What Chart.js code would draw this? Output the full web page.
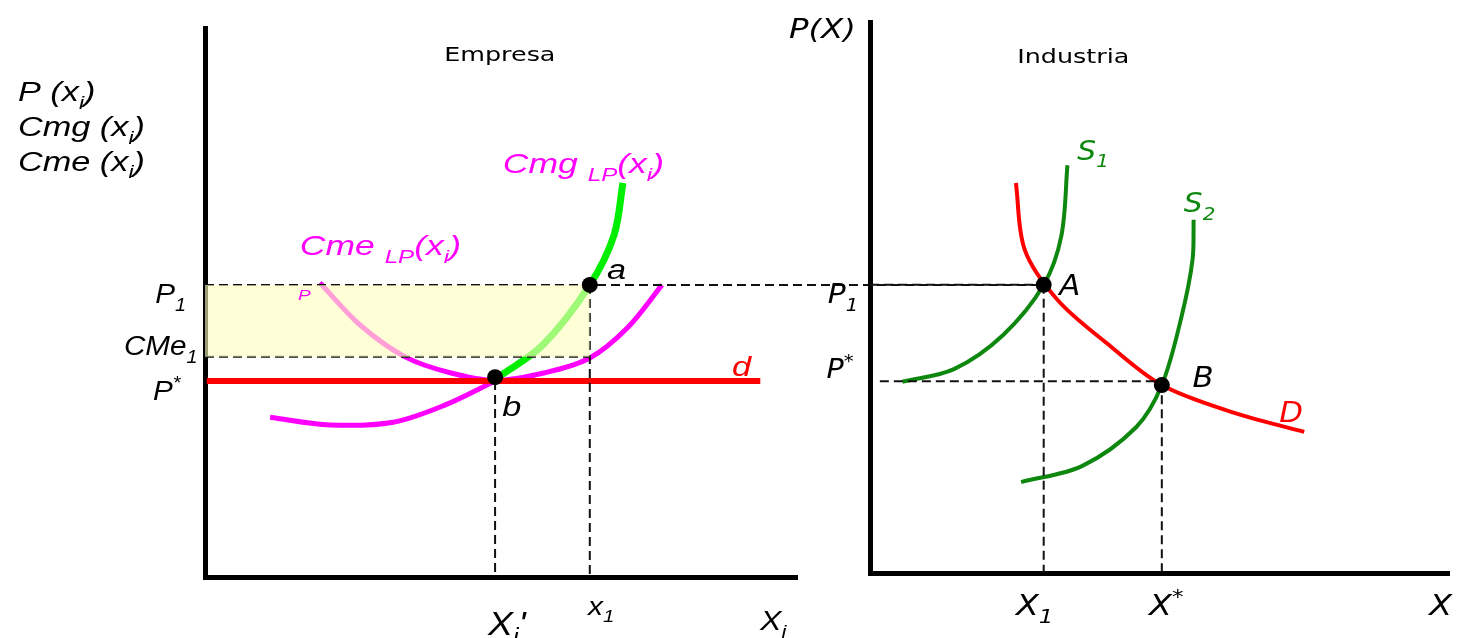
<!DOCTYPE html>
<html>
<head>
<meta charset="utf-8">
<script src="https://cdn.jsdelivr.net/npm/chart.js@4.4.1/dist/chart.umd.min.js"></script>
<style>
  body { margin: 0; background: #fff; }
  canvas { position: absolute; left: 0; top: 0; }
</style>
</head>
<body>
<canvas id="firmChart" width="1457" height="638"></canvas>
<canvas id="industryChart" width="1457" height="638"></canvas>
<script>
// ---- Empresa (left panel), both axes run 0-100 ----
const P1 = 53.2;
const CMe1 = 40.1;
const Pstar = 35.7;
const x1 = 65.0;
const xiPrime = 49.0;
const pointA_firm = [x1, P1];
const pointB_firm = [xiPrime, 36.4];

const cmgLP = [[49.3, 36.2], [57.1, 42.3], [65.0, 53.2], [69.1, 62.3], [70.6, 71.8]];
const cmeShort = [[19.4, 53.6], [26.2, 45.9], [33.8, 40.1], [41.4, 37.2], [49.0, 35.8],
    [57.4, 37.2], [65.0, 39.9], [71.45, 45.5], [77.2, 53.2]];
const cmeLong = [[11.0, 29.1], [21.1, 27.7], [31.8, 28.2], [40.5, 31.3], [49.0, 35.7]];
const demandFirm = [[0.3, Pstar], [93.8, Pstar]];
const p1Reach = 142.1; // dashed P1 runs on to point A of the industry panel

// ---- Industria (right panel), both axes run 0-100 ----
const P1ind = 52.3;
const PstarInd = 34.8;
const X1 = 30.0;
const Xstar = 50.4;
const pointA = [X1, P1ind];
const pointB = [Xstar, 34.1];

const demand = [[25.2, 70.8], [26.75, 58.6], [32.4, 49.55], [40.9, 41.7], [50.4, 34.1], [62.5, 29.2], [75.0, 25.6]];
const supply1 = [[5.6, 34.7], [14.5, 37.0], [23.0, 43.2], [30.0, 52.3], [33.05, 61.2], [34.1, 74.0]];
const supply2 = [[26.1, 16.5], [36.6, 19.4], [46.0, 26.5], [50.4, 34.1], [53.8, 46.5], [55.7, 56.8], [55.9, 64.1]];

const GREEN = '#0e870e';
const ITALIC_SANS = '"Liberation Sans", Arial, sans-serif';
const VERDANA = '"DejaVu Sans", Verdana, sans-serif';
const STRETCH = 1.27; // the reference lettering is wider than it is tall

const pts = arr => arr.map(([x, y]) => ({x, y}));

function curve(data, color, width, extra) {
    return Object.assign({
        data: pts(data), showLine: true, borderColor: color, borderWidth: width,
        pointRadius: 0, tension: 0.33, fill: false, borderCapStyle: 'butt',
    }, extra);
}

function dashed(data) {
    return {
        data: pts(data), showLine: true, borderColor: '#111', borderWidth: 2,
        borderDash: [9, 5], pointRadius: 0, tension: 0, fill: false, clip: false,
    };
}

function dots(list) {
    return {
        data: pts(list), showLine: false, pointRadius: 8, pointBackgroundColor: '#000',
        pointBorderWidth: 0, order: -2, clip: false,
    };
}

// text with sub/superscripts: parts = [[text, kind]], kind -1 sub, 1 sup
function drawRich(ctx, item, px, py) {
    const fam = item.family || ITALIC_SANS;
    const style = item.style || 'italic';
    const sx = item.stretch || STRETCH;
    const segs = item.parts.map(p => {
        const kind = p[1] || 0;
        const s = kind === 0 ? item.size : Math.round(item.size * 0.68);
        ctx.font = `${style} ${s}px ${fam}`;
        return {t: p[0], kind, s, w: ctx.measureText(p[0]).width};
    });
    const total = segs.reduce((a, b) => a + b.w, 0) * sx;
    const startX = item.align === 'center' ? px - total / 2 : px;
    ctx.save();
    ctx.translate(startX, py);
    ctx.scale(sx, 1);
    ctx.fillStyle = item.color || '#000';
    ctx.textAlign = 'left';
    ctx.textBaseline = 'alphabetic';
    let cx = 0;
    segs.forEach(sg => {
        ctx.font = `${style} ${sg.s}px ${fam}`;
        const dy = sg.kind < 0 ? item.size * 0.28 : sg.kind > 0 ? -item.size * 0.42 : 0;
        ctx.fillText(sg.t, cx, dy);
        cx += sg.w;
    });
    ctx.restore();
}

function makeLabels(items) {
    return {
        id: 'richLabels',
        afterDraw(chart) {
            const {ctx, scales} = chart;
            items.forEach(it => {
                drawRich(ctx, it, scales.x.getPixelForValue(it.x), scales.y.getPixelForValue(it.y));
            });
        },
    };
}

function baseOptions(pad) {
    const axis = {
        type: 'linear', min: 0, max: 100,
        grid: {display: false, drawTicks: false},
        ticks: {display: false},
        border: {display: true, color: '#000', width: 5},
    };
    return {
        responsive: false,
        animation: false,
        layout: {padding: pad},
        plugins: {legend: {display: false}, tooltip: {enabled: false}},
        scales: {x: Object.assign({}, axis), y: Object.assign({}, axis)},
    };
}

const firmLabels = [
    {x: -31.6, y: 86.7, parts: [['P (x'], ['i', -1], [')']], size: 27},
    {x: -31.6, y: 80.3, parts: [['Cmg (x'], ['i', -1], [')']], size: 27},
    {x: -31.6, y: 74.0, parts: [['Cme (x'], ['i', -1], [')']], size: 27},
    {x: 49.8, y: 94.0, parts: [['Empresa']], size: 20, style: 'normal', family: VERDANA, align: 'center'},
    {x: 50.3, y: 73.6, parts: [['Cmg '], ['LP', -1], ['(x'], ['i', -1], [')']], size: 28, color: '#ff00ff'},
    {x: 16.0, y: 58.7, parts: [['Cme '], ['LP', -1], ['(x'], ['i', -1], [')']], size: 28, color: '#ff00ff'},
    {x: 15.7, y: 50.5, parts: [['P']], size: 15, color: '#ff00ff'},
    {x: 67.9, y: 54.3, parts: [['a']], size: 27},
    {x: 50.2, y: 29.3, parts: [['b']], size: 27},
    {x: 89.0, y: 36.6, parts: [['d']], size: 27, color: '#ff0000'},
    {x: -8.4, y: 49.9, parts: [['P'], ['1', -1]], size: 27, stretch: 1.1},
    {x: -13.7, y: 40.4, parts: [['CMe'], ['1', -1]], size: 27, stretch: 1.1},
    {x: -8.8, y: 32.2, parts: [['P'], ['*', 1]], size: 27, stretch: 1.1},
    {x: 47.8, y: -10.6, parts: [['X'], ['i', -1], ["'"]], size: 34, stretch: 1.1},
    {x: 64.7, y: -6.9, parts: [['x'], ['1', -1]], size: 25, stretch: 1.2},
    {x: 93.75, y: -9.7, parts: [['X'], ['i', -1]], size: 28, stretch: 1.15},
];

const industryLabels = [
    {x: 35.1, y: 92.6, parts: [['Industria']], size: 20, style: 'normal', family: VERDANA, align: 'center'},
    {x: -14.0, y: 97.1, parts: [['P(X)']], size: 27, family: VERDANA, stretch: 1.2},
    {x: 35.8, y: 75.0, parts: [['S'], ['1', -1]], size: 27, color: GREEN, family: VERDANA, stretch: 1.1},
    {x: 54.2, y: 65.5, parts: [['S'], ['2', -1]], size: 27, color: GREEN, family: VERDANA, stretch: 1.1},
    {x: 32.7, y: 50.5, parts: [['A']], size: 28, family: VERDANA, stretch: 1.1},
    {x: 55.7, y: 33.8, parts: [['B']], size: 28, family: VERDANA, stretch: 1.1},
    {x: 70.7, y: 27.4, parts: [['D']], size: 28, color: '#ff0000', family: VERDANA, stretch: 1.1},
    {x: -7.3, y: 49.0, parts: [['P'], ['1', -1]], size: 27, family: VERDANA, stretch: 1.1},
    {x: -7.5, y: 35.4, parts: [['P'], ['*', 1]], size: 26, family: VERDANA, stretch: 1.1},
    {x: 25.2, y: -7.6, parts: [['X'], ['1', -1]], size: 29, family: VERDANA, stretch: 1.15},
    {x: 48.2, y: -7.6, parts: [['X'], ['*', 1]], size: 29, family: VERDANA, stretch: 1.15},
    {x: 96.6, y: -7.6, parts: [['X']], size: 29, family: VERDANA, stretch: 1.15},
];

// Empresa
new Chart(document.getElementById('firmChart'), {
    type: 'scatter',
    data: {
        datasets: [
            dashed([[0, P1], [p1Reach, P1]]),
            dashed([[0, CMe1], [x1, CMe1]]),
            dashed([[x1, P1], [x1, 0]]),
            dashed([[xiPrime, Pstar], [xiPrime, 0]]),
            curve(demandFirm, '#ff0000', 6, {tension: 0}),
            curve(cmeLong, '#ff00ff', 5),
            curve(cmeShort, '#ff00ff', 5),
            curve(cmgLP, '#00ee00', 7),
            {
                data: pts([[0, P1], [x1, P1]]), showLine: true, borderWidth: 0, pointRadius: 0,
                tension: 0, fill: {value: CMe1}, backgroundColor: 'rgba(255,255,190,0.62)', order: -1,
            },
            dots([pointA_firm, pointB_firm]),
        ],
    },
    options: baseOptions({left: 205, right: 660, top: 28, bottom: 61}),
    plugins: [makeLabels(firmLabels)],
});

// Industria
new Chart(document.getElementById('industryChart'), {
    type: 'scatter',
    data: {
        datasets: [
            dashed([[0, P1ind], [X1, P1ind]]),
            dashed([[1.7, PstarInd], [Xstar, PstarInd]]),
            dashed([[X1, P1ind], [X1, 0]]),
            dashed([[Xstar, PstarInd], [Xstar, 0]]),
            curve(demand, '#ff0000', 4),
            curve(supply1, GREEN, 4),
            curve(supply2, GREEN, 4),
            dots([pointA, pointB]),
        ],
    },
    options: baseOptions({left: 870, right: 0, top: 22, bottom: 65}),
    plugins: [makeLabels(industryLabels)],
});
</script>
</body>
</html>
